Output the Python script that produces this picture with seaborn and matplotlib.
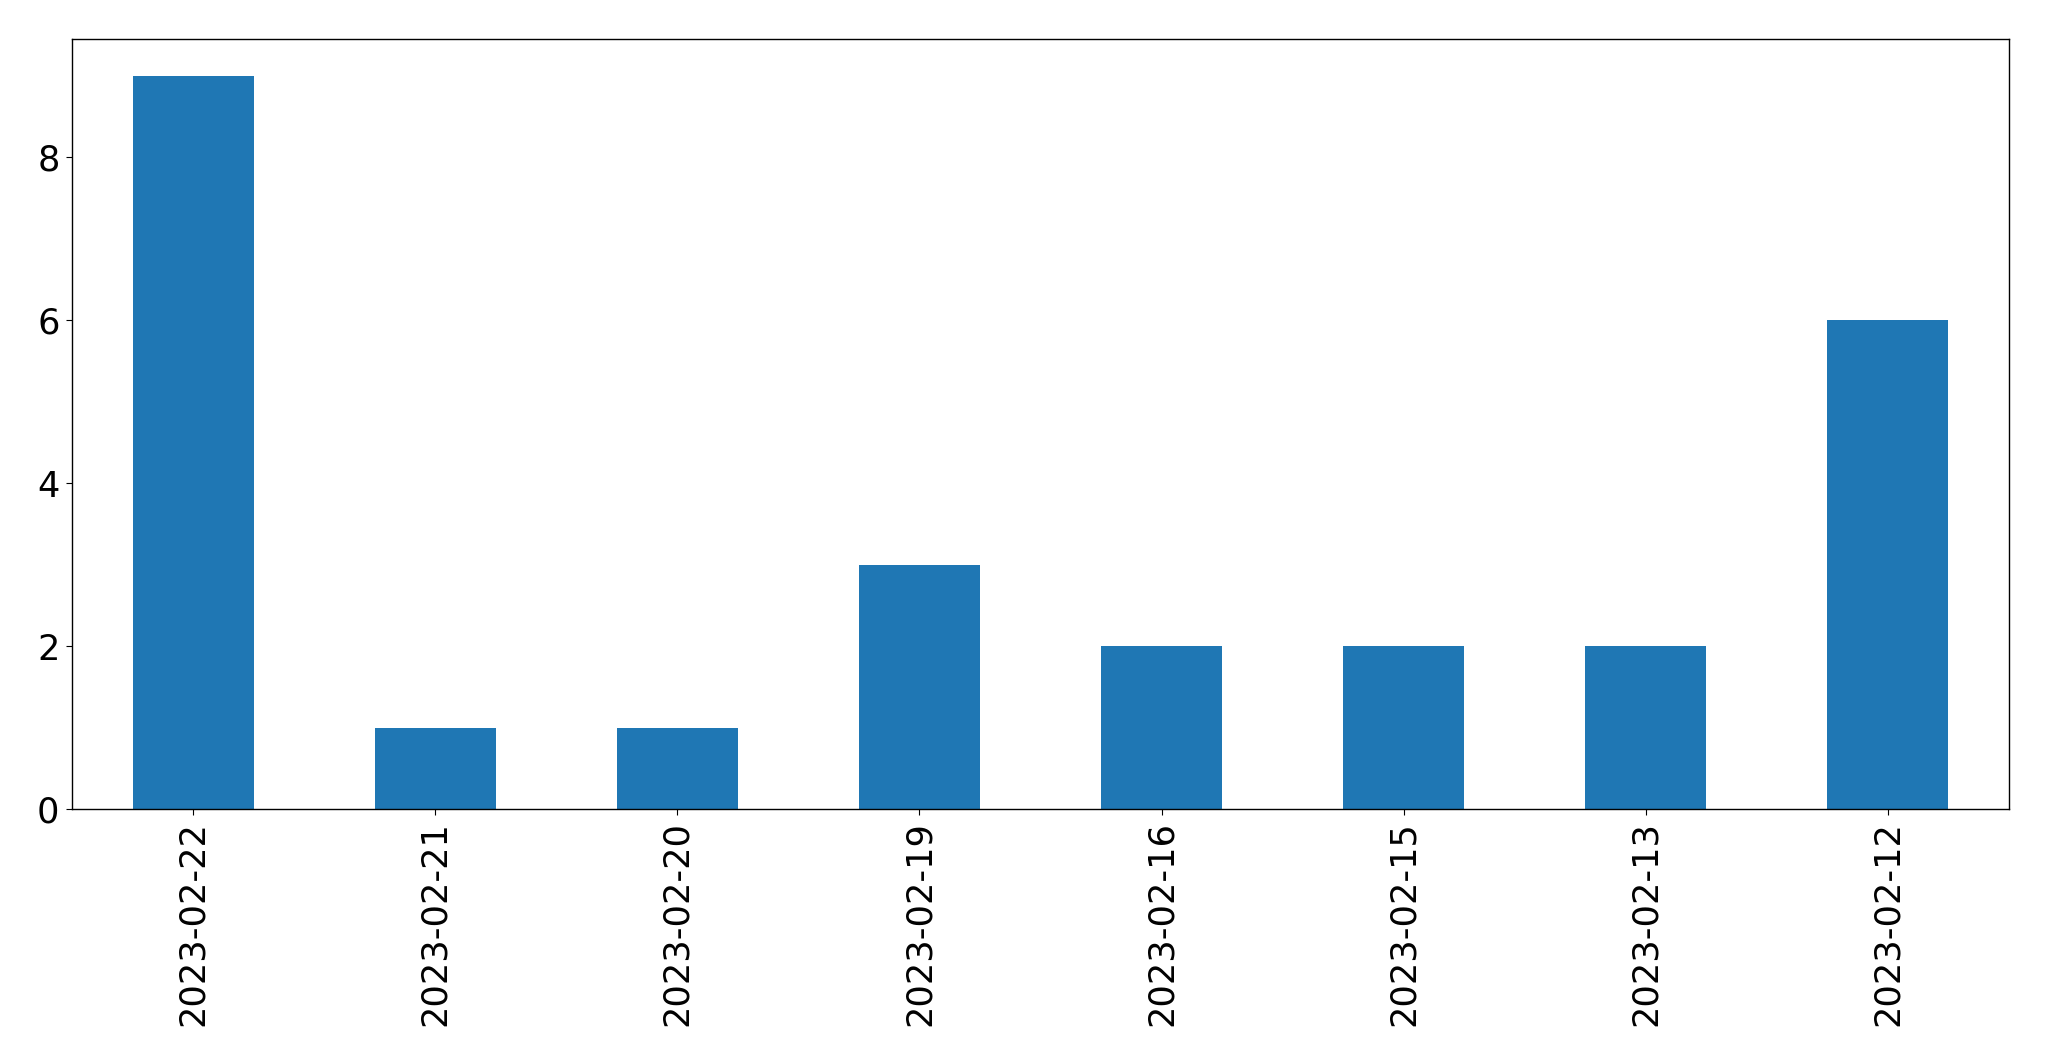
import matplotlib
matplotlib.use("Agg")
import matplotlib.pyplot as plt
import seaborn as sns
import pandas as pd

dates = ["2023-02-22", "2023-02-21", "2023-02-20", "2023-02-19",
         "2023-02-16", "2023-02-15", "2023-02-13", "2023-02-12"]
counts = [9, 1, 1, 3, 2, 2, 2, 6]

df = pd.DataFrame({"date": dates, "count": counts})

plt.rcParams["font.family"] = ["DejaVu Sans"]
fig = plt.figure(figsize=(20.49, 10.61), dpi=100)
ax = fig.add_axes([72/2049, 1 - 809/1061, (2009 - 72)/2049, (809 - 39)/1061])

sns.barplot(data=df, x="date", y="count", order=dates, color="#1f77b4",
            saturation=1, width=0.5, linewidth=0, ax=ax)

ax.set_xlim(-0.5, 7.5)
ax.set_ylim(0, 9.45)
ax.set_yticks([0, 2, 4, 6, 8])
ax.set_xlabel("")
ax.set_ylabel("")
ax.tick_params(axis="both", labelsize=25.3, length=4.5, pad=4.5)
plt.setp(ax.get_xticklabels(), rotation=90)
for s in ax.spines.values():
    s.set_visible(True)
    s.set_color("black")
    s.set_linewidth(1.0)

fig.savefig("out.png", dpi=100)
